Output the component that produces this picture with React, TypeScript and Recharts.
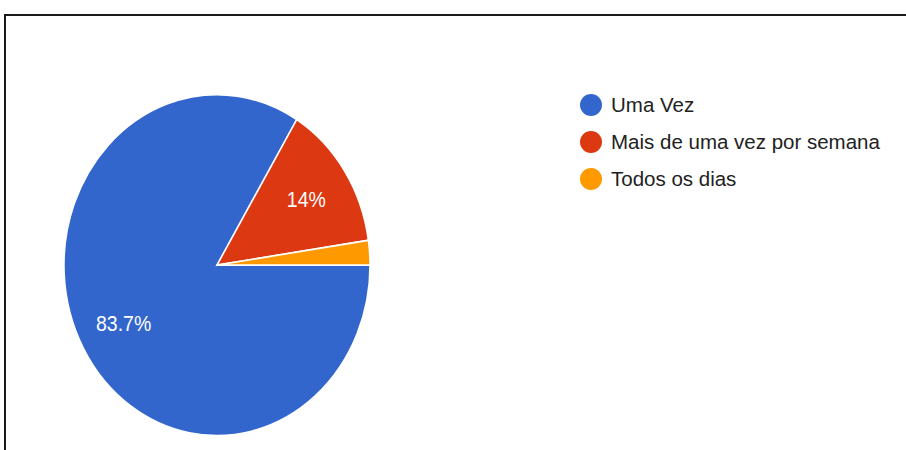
import { Cell, Pie, PieChart } from 'recharts';

const categories = ['Uma Vez', 'Mais de uma vez por semana', 'Todos os dias'];
const counts = [36, 6, 1];
const colors = ['#3366cc', '#dc3912', '#ff9900'];

const total = counts.reduce((a, b) => a + b, 0);
const data = categories.map((name, i) => ({ name, value: counts[i] }));

const RAD = Math.PI / 180;
// the reference pie is stretched vertically
const STRETCH = 1.114;

function formatPct(v: number) {
  return (Math.round((v / total) * 1000) / 10).toFixed(1).replace(/\.0$/, '') + '%';
}

function renderLabel(props: any) {
  const { cx, cy, midAngle, outerRadius, value } = props;
  if (value / total < 0.05) return null;
  const r = outerRadius * 0.7;
  const x = cx + r * Math.cos(-midAngle * RAD);
  const y = cy + r * Math.sin(-midAngle * RAD);
  return (
    <text
      x={x}
      y={y}
      fill="#ffffff"
      textAnchor="middle"
      dominantBaseline="central"
      fontSize={19.5}
      fontFamily="Arial, 'Liberation Sans', sans-serif"
    >
      {formatPct(value)}
    </text>
  );
}

export default function App() {
  return (
    <div
      style={{
        position: 'fixed',
        left: 0,
        top: 0,
        width: 906,
        height: 450,
        overflow: 'hidden',
        background: '#fff',
        fontFamily: "Arial, 'Liberation Sans', sans-serif",
      }}
    >
      <div
        style={{
          position: 'absolute',
          left: 4,
          top: 14,
          width: 1000,
          height: 600,
          borderTop: '2px solid #1a1a1a',
          borderLeft: '2px solid #1a1a1a',
        }}
      />
      <div
        style={{
          position: 'absolute',
          left: 0,
          top: 0,
          transform: `scaleY(${STRETCH})`,
          transformOrigin: 'top left',
        }}
      >
        <PieChart width={560} height={404} margin={{ top: 0, right: 0, bottom: 0, left: 0 }}>
          <Pie
            data={data}
            dataKey="value"
            nameKey="name"
            cx={217}
            cy={238}
            outerRadius={153}
            startAngle={0}
            endAngle={-360}
            stroke="#ffffff"
            strokeWidth={1.5}
            label={renderLabel}
            labelLine={false}
            isAnimationActive={false}
          >
            {data.map((d, i) => (
              <Cell key={d.name} fill={colors[i]} />
            ))}
          </Pie>
        </PieChart>
      </div>
      <div style={{ position: 'absolute', left: 580, top: 86 }}>
        {categories.map((name, i) => (
          <div key={name} style={{ display: 'flex', alignItems: 'center', height: 37 }}>
            <span
              style={{
                display: 'inline-block',
                width: 22,
                height: 22,
                borderRadius: '50%',
                background: colors[i],
                marginRight: 9,
              }}
            />
            <span style={{ fontSize: 20.5, color: '#222' }}>{name}</span>
          </div>
        ))}
      </div>
    </div>
  );
}
